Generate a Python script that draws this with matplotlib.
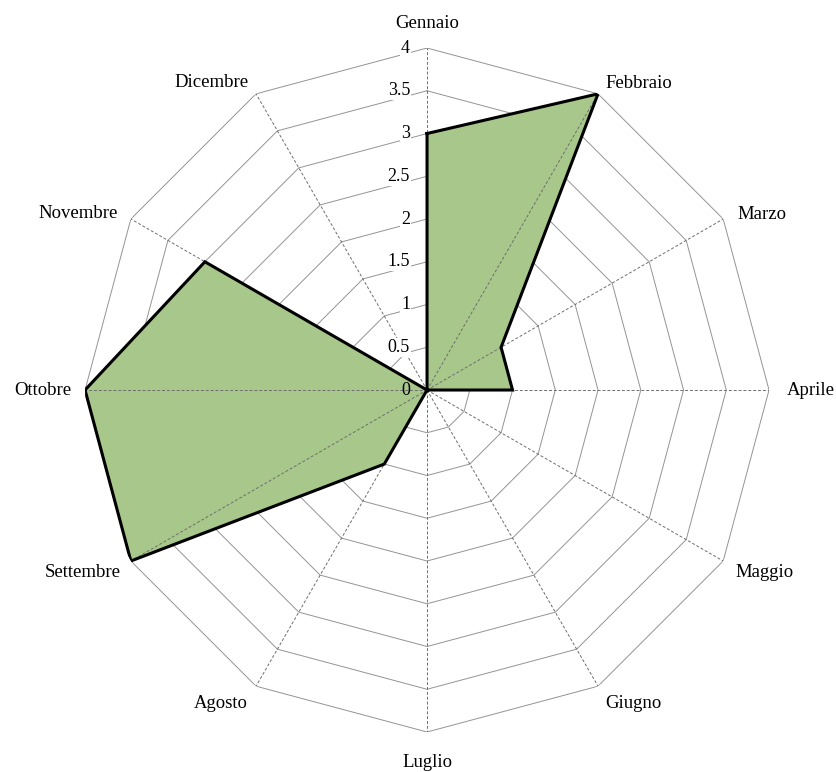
import numpy as np
import matplotlib
matplotlib.use("Agg")
import matplotlib.pyplot as plt

# data
mesi = ["Gennaio", "Febbraio", "Marzo", "Aprile", "Maggio", "Giugno",
        "Luglio", "Agosto", "Settembre", "Ottobre", "Novembre", "Dicembre"]
valori = [3, 4, 1, 1, 0, 0, 0, 1, 4, 4, 3, 0]
livelli = [0, 0.5, 1, 1.5, 2, 2.5, 3, 3.5, 4]
etichette_livelli = ["0", "0.5", "1", "1.5", "2", "2.5", "3", "3.5", "4"]

plt.rcParams["font.family"] = ["Liberation Serif", "DejaVu Serif"]

n = len(mesi)
theta = np.arange(n) * 2 * np.pi / n
theta_c = np.append(theta, theta[0])

fig = plt.figure(figsize=(8.37, 7.72), dpi=100)
ax = fig.add_axes([0.1016, 0.0518, 0.8172, 0.886], projection="polar")
ax.set_theta_zero_location("N")
ax.set_theta_direction(-1)
ax.set_ylim(0, 4)
ax.set_xticks([])
ax.set_yticks([])
ax.grid(False)
ax.spines["polar"].set_visible(False)
ax.patch.set_visible(False)

# polygon rings
for r in livelli[1:]:
    ax.plot(theta_c, [r] * (n + 1), color="#949494", lw=0.7, zorder=1)

# data area
v = np.append(valori, valori[0])
ax.fill(theta_c, v, color="#a7c78b", zorder=2, lw=0)

# spokes
for t in theta:
    ax.plot([t, t], [0, 4], color="#6e6e6e", lw=0.7, ls=(0, (3, 2)), zorder=3)

ax.plot(theta_c, v, color="black", lw=2.2, zorder=4, solid_joinstyle="miter")

# month labels
offsets = [
    ("center", (0, 25)), ("left", (7, 10)), ("left", (14, 5)), ("left", (18, 0)),
    ("left", (12, -11)), ("left", (7, -17)), ("center", (0, -30)), ("right", (-8, -17)),
    ("right", (-10, -11)), ("right", (-14, 0)), ("right", (-13, 6)), ("right", (-7, 11)),
]
for t, m, (ha, off) in zip(theta, mesi, offsets):
    ax.annotate(m, xy=(t, 4), xytext=off, textcoords="offset pixels",
                ha=ha, va="center", fontsize=13.5, annotation_clip=False)

# radial tick labels
for r, lab in zip(livelli, etichette_livelli):
    box = None if r == 0 else dict(boxstyle="square,pad=0.05", fc="white", ec="none")
    ax.annotate(lab, xy=(0, r), xytext=(-17, 0), textcoords="offset pixels",
                ha="right", va="center", fontsize=13, zorder=5,
                bbox=box, annotation_clip=False)

fig.savefig("out.png", dpi=100)
